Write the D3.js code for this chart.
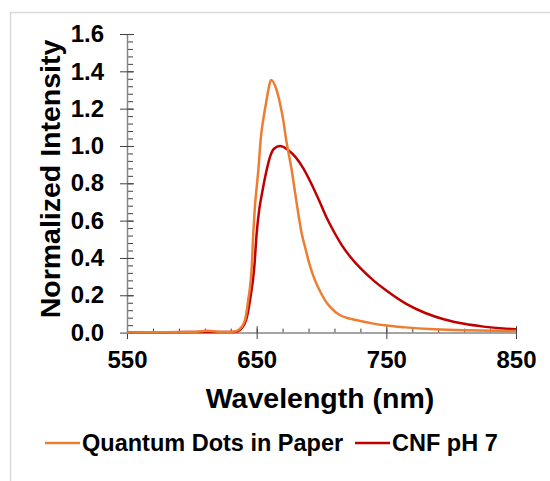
<!DOCTYPE html>
<html>
<head>
<meta charset="utf-8">
<script src="https://cdn.jsdelivr.net/npm/d3@7"></script>
<style>
  body { margin: 0; background: #fff; }
  text { font-family: "Liberation Sans", Arial, sans-serif; font-weight: bold; fill: #000; }
</style>
</head>
<body>
<div id="chart"></div>
<script>
// series data
var qdWavelength = [550, 575, 600, 612, 625, 632, 636, 641, 643.5, 646.2, 647.4, 648.5, 651.3, 653.3, 655.5, 657.2, 659, 661, 665.4, 668, 670.5, 672.4, 677, 680.5, 684.7, 688, 691, 695, 699, 703, 707, 714, 722, 730, 740, 750, 765, 783, 810, 850];
var qdIntensity  = [0, 0.002, 0.003, 0.01, 0.003, 0.005, 0.014, 0.067, 0.175, 0.353, 0.532, 0.66, 0.871, 1.049, 1.16, 1.228, 1.30, 1.353, 1.299, 1.228, 1.139, 1.049, 0.871, 0.71, 0.532, 0.44, 0.36, 0.28, 0.22, 0.17, 0.135, 0.094, 0.075, 0.062, 0.048, 0.038, 0.028, 0.019, 0.013, 0.008];

var cnfWavelength = [550, 580, 610, 630, 634, 637, 641.8, 644.9, 648.2, 650, 652, 654.5, 657.7, 660.3, 663.4, 668, 674, 680, 686, 692, 698, 704, 710, 716, 722, 730, 740, 750, 765, 780, 795, 810, 825, 840, 850];
var cnfIntensity  = [0, 0.002, 0.003, 0.003, 0.005, 0.014, 0.067, 0.175, 0.353, 0.532, 0.66, 0.76, 0.871, 0.942, 0.985, 1.0, 0.98, 0.94, 0.88, 0.80, 0.71, 0.615, 0.535, 0.465, 0.408, 0.345, 0.28, 0.225, 0.155, 0.105, 0.07, 0.047, 0.032, 0.022, 0.018];

var seriesNames  = ["Quantum Dots in Paper", "CNF pH 7"];
var seriesColors = ["#ED7D31", "#C00000"];

var xMajor = [550, 650, 750, 850];
var xMinor = d3.range(550, 851, 20);
var yMajor = [0, 0.2, 0.4, 0.6, 0.8, 1.0, 1.2, 1.4, 1.6];
var yMinor = d3.range(0, 1.6001, 0.04);

// dimensions
var W = 550, H = 481;
var margin = {top: 34, left: 127},
    width = 389,
    height = 298.6;

var svg = d3.select("#chart")
  .append("svg")
    .attr("width", W)
    .attr("height", H)

// light frame (top and left edges visible)
svg.append("path")
  .attr("d", "M10.5," + H + "V12.5H" + W)
  .attr("fill", "none")
  .attr("stroke", "#d9d9d9")
  .attr("stroke-width", 1.5)

var g = svg.append("g")
  .attr("transform", "translate(" + margin.left + "," + margin.top + ")")

var x = d3.scaleLinear().domain([550, 850]).range([0, width])
var y = d3.scaleLinear().domain([0, 1.6]).range([height, 0])

// minor ticks (inside)
g.append("g")
  .attr("transform", "translate(0," + height + ")")
  .call(d3.axisBottom(x).tickValues(xMinor).tickSize(-4).tickFormat(""))
  .call(function (a) { a.select(".domain").remove() })
g.append("g")
  .call(d3.axisLeft(y).tickValues(yMinor).tickSize(-6).tickFormat(""))
  .call(function (a) { a.select(".domain").remove() })

// major axes
var xAxis = g.append("g")
  .attr("transform", "translate(0," + height + ")")
  .call(d3.axisBottom(x).tickValues(xMajor).tickSizeInner(6.5).tickSizeOuter(0).tickFormat(d3.format("d")))
xAxis.selectAll(".tick line").attr("y1", -6.5)
xAxis.selectAll(".tick text").attr("y", 18.5).style("font-size", "24px")

var yAxis = g.append("g")
  .call(d3.axisLeft(y).tickValues(yMajor).tickSizeInner(7).tickSizeOuter(0).tickFormat(d3.format(".1f")))
yAxis.selectAll(".tick line").attr("x1", 7)
yAxis.selectAll(".tick text").attr("x", -23).style("font-size", "24px")

g.selectAll(".domain").attr("stroke", "#868686").attr("stroke-width", 1.5)
g.selectAll(".tick line").attr("stroke", "#404040")
g.selectAll(".tick text").style("fill", "#000").style("font-family", "'Liberation Sans', Arial, sans-serif").style("font-weight", "bold")

// axis titles
svg.append("text")
  .attr("text-anchor", "middle")
  .attr("x", 320)
  .attr("y", 408)
  .style("font-size", "28.5px")
  .text("Wavelength (nm)")

svg.append("text")
  .attr("text-anchor", "middle")
  .attr("transform", "translate(60,179) rotate(-90)")
  .style("font-size", "28.5px")
  .text("Normalized Intensity")

// lines
var line = d3.line()
  .x(function (d) { return x(d[0]) })
  .y(function (d) { return y(d[1]) })
  .curve(d3.curveMonotoneX)

var series = [d3.zip(qdWavelength, qdIntensity), d3.zip(cnfWavelength, cnfIntensity)]

// red first, orange on top
g.append("path")
  .datum(series[1])
  .attr("fill", "none")
  .attr("stroke", seriesColors[1])
  .attr("stroke-width", 2.5)
  .attr("d", line)
g.append("path")
  .datum(series[0])
  .attr("fill", "none")
  .attr("stroke", seriesColors[0])
  .attr("stroke-width", 2.5)
  .attr("d", line)

// legend
var legendX = [45, 355]
var leg = svg.append("g")
seriesNames.forEach(function (name, i) {
  leg.append("line")
    .attr("x1", legendX[i]).attr("x2", legendX[i] + 35)
    .attr("y1", 443).attr("y2", 443)
    .attr("stroke", seriesColors[i])
    .attr("stroke-width", 2.5)
  leg.append("text")
    .attr("x", legendX[i] + 37)
    .attr("y", 451)
    .style("font-size", "23.5px")
    .text(name)
})
</script>
</body>
</html>
